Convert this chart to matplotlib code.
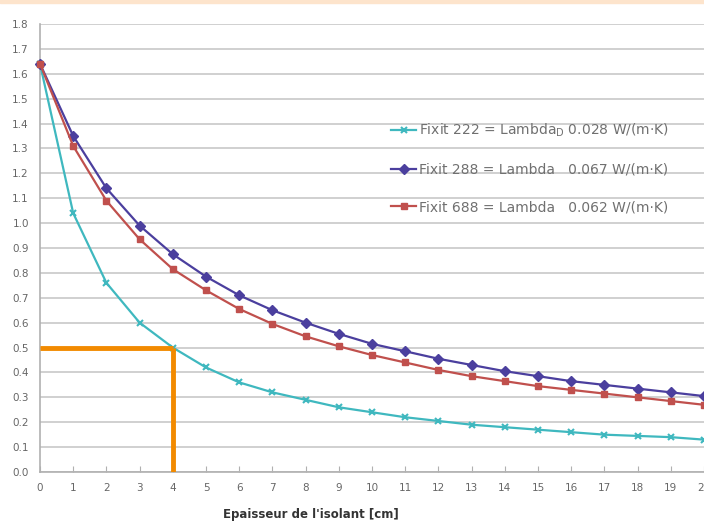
import numpy as np
import matplotlib.pyplot as plt
from matplotlib.patches import Rectangle

# epaisseur de l'isolant (cm)
epaisseur = list(range(0, 21))

# valeurs
fixit_222 = [1.64, 1.04, 0.76, 0.60, 0.50, 0.42, 0.36, 0.32, 0.29, 0.26, 0.24,
             0.22, 0.205, 0.19, 0.18, 0.17, 0.16, 0.15, 0.145, 0.14, 0.13]
fixit_288 = [1.64, 1.35, 1.14, 0.99, 0.875, 0.785, 0.71, 0.65, 0.60, 0.555, 0.515,
             0.485, 0.455, 0.43, 0.405, 0.385, 0.365, 0.35, 0.335, 0.32, 0.305]
fixit_688 = [1.64, 1.31, 1.09, 0.935, 0.815, 0.73, 0.655, 0.595, 0.545, 0.505, 0.47,
             0.44, 0.41, 0.385, 0.365, 0.345, 0.33, 0.315, 0.30, 0.285, 0.27]

labels = ["Fixit 222 = Lambda$_\\mathregular{D}$ 0.028 W/(m·K)",
          "Fixit 288 = Lambda   0.067 W/(m·K)",
          "Fixit 688 = Lambda   0.062 W/(m·K)"]

# repere orange : 0.5 a 4 cm
repere_x = 4
repere_y = 0.5

fig = plt.figure(figsize=(7.04, 5.24), dpi=100)
fig.patch.set_facecolor('white')
# bande en haut
fig.patches.append(Rectangle((0, 1 - 3 / 524), 1, 3 / 524, transform=fig.transFigure,
                             color='#fde4cc', zorder=0))

ax = fig.add_axes([40 / 704, 52 / 524, 664 / 704, 448 / 524])
ax.set_xlim(0, 20)
ax.set_ylim(0, 1.8)

ax.plot(epaisseur, fixit_222, color='#3fb8bf', lw=1.6, marker='x', ms=5, mew=1.5,
        label=labels[0], clip_on=False, zorder=3)
ax.plot(epaisseur, fixit_288, color='#4b3f9e', lw=1.6, marker='D', ms=5,
        label=labels[1], clip_on=False, zorder=3)
ax.plot(epaisseur, fixit_688, color='#c0504d', lw=1.6, marker='s', ms=5,
        label=labels[2], clip_on=False, zorder=3)

# lignes orange
ax.plot([0, repere_x], [repere_y, repere_y], color='#f28a00', lw=3.5, zorder=4,
        solid_capstyle='butt')
ax.plot([repere_x, repere_x], [0, repere_y], color='#f28a00', lw=3.5, zorder=4,
        solid_capstyle='butt')

ax.set_xticks(epaisseur)
ax.set_yticks(np.arange(0, 1.81, 0.1))
ax.yaxis.set_major_formatter(plt.FormatStrFormatter('%.1f'))
ax.grid(axis='y', color='#c8c8c8', lw=1.2)
ax.set_axisbelow(True)
for s in ['top', 'right']:
    ax.spines[s].set_visible(False)
for s in ['left', 'bottom']:
    ax.spines[s].set_color('#b0b0b0')
    ax.spines[s].set_linewidth(1.2)
ax.tick_params(axis='x', colors='#b0b0b0', labelcolor='#666666', labelsize=7.5,
               direction='in', length=4, pad=8)
ax.tick_params(axis='y', length=0, labelcolor='#666666', labelsize=7.5, pad=8)

ax.set_xlabel("Epaisseur de l'isolant [cm]", fontsize=8.5, fontweight='bold', color='#333333')
ax.xaxis.set_label_coords((311 - 40) / 664, -0.08)

leg = ax.legend(loc='upper left', bbox_to_anchor=(0.51, 0.81), frameon=False,
                fontsize=10, labelspacing=1.7, handlelength=1.8, handletextpad=0.2)
for t in leg.get_texts():
    t.set_color('#707070')

fig.savefig('out.png', dpi=100)
